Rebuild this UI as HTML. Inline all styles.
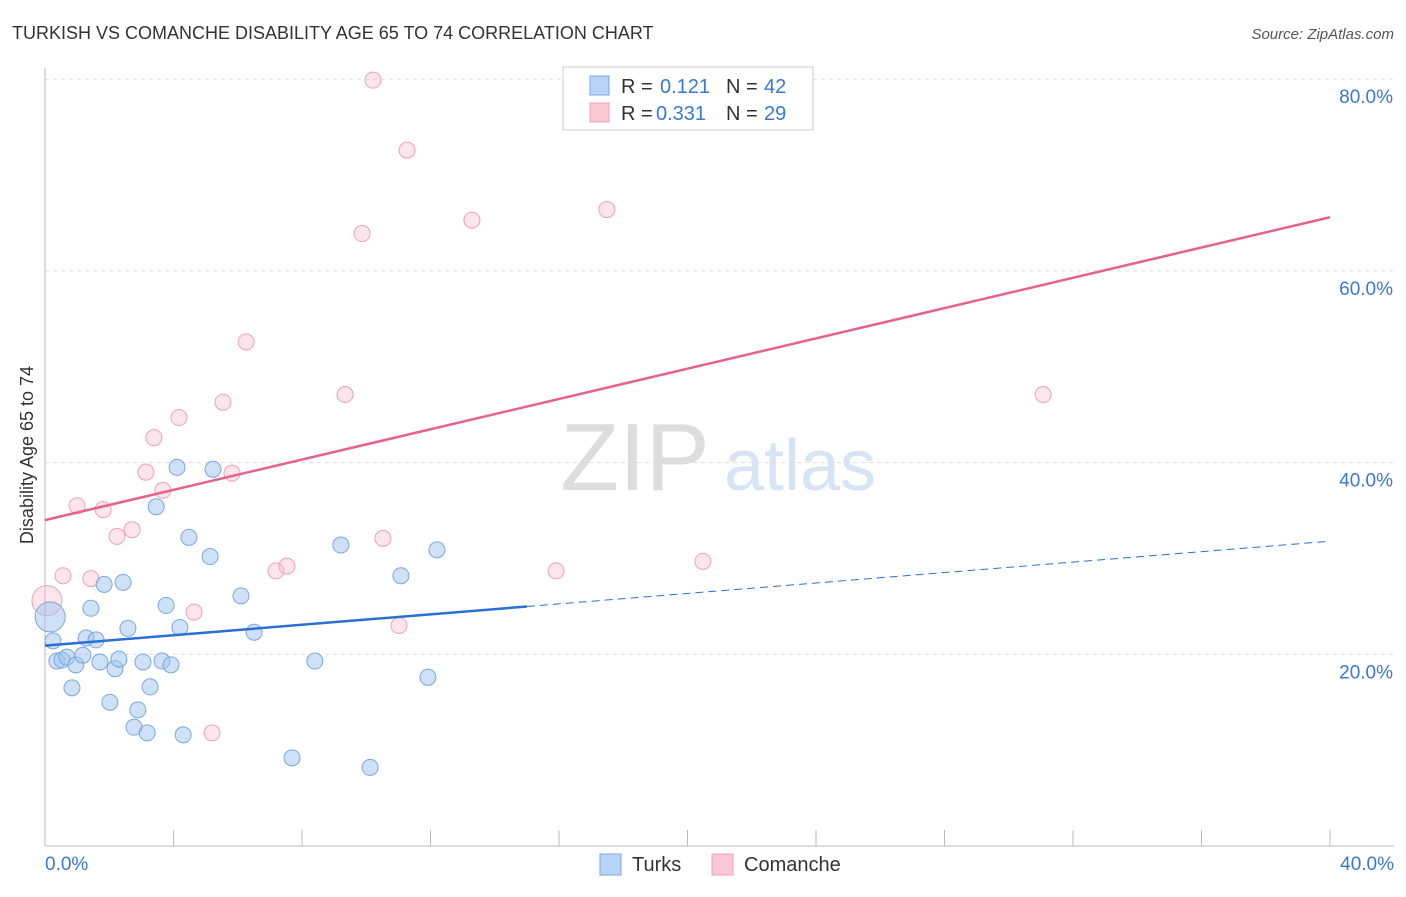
<!DOCTYPE html>
<html><head><meta charset="utf-8"><style>
body{margin:0;background:#fff;font-family:"Liberation Sans",sans-serif;}
svg text{font-family:"Liberation Sans",sans-serif;}
</style></head><body>
<svg id="chart" width="1406" height="892" xmlns="http://www.w3.org/2000/svg">
<text x="12" y="39" font-size="18" fill="#333">TURKISH VS COMANCHE DISABILITY AGE 65 TO 74 CORRELATION CHART</text>
<text x="1394" y="39" font-size="15" fill="#555" text-anchor="end" font-style="italic">Source: ZipAtlas.com</text>
<text transform="translate(33,455) rotate(-90)" font-size="18" fill="#333" text-anchor="middle">Disability Age 65 to 74</text>
<g><text x="635" y="490" font-size="96" fill="#ddd" font-family="Liberation Serif" text-anchor="middle">ZIP</text><text x="800" y="490" font-size="72" fill="#d6e4f6" text-anchor="middle">atlas</text></g>
<g id="grid"></g><g id="axes"></g><g id="marks"></g>
<g>
<rect x="563" y="67" width="250" height="63" fill="#fff" stroke="#ccc"/>
<rect x="590" y="76" width="19" height="19" fill="#b9d3f5" stroke="#7aa7e0"/>
<text x="621" y="93" font-size="20" fill="#333">R = </text><text x="660" y="93" font-size="20" fill="#3a78d4">0.121</text>
<text x="726" y="93" font-size="20" fill="#333">N = </text><text x="764" y="93" font-size="20" fill="#3a78d4">42</text>
<rect x="590" y="103" width="19" height="19" fill="#f9c8d6" stroke="#f0a0b8"/>
<text x="621" y="120" font-size="20" fill="#333">R = </text><text x="656" y="120" font-size="20" fill="#3a78d4">0.331</text>
<text x="726" y="120" font-size="20" fill="#333">N = </text><text x="764" y="120" font-size="20" fill="#3a78d4">29</text>
</g>
<g>
<rect x="600" y="854" width="21" height="21" fill="#b9d3f5" stroke="#7aa7e0"/><text x="632" y="871" font-size="20" fill="#333">Turks</text>
<rect x="712" y="854" width="21" height="21" fill="#f9c8d6" stroke="#f0a0b8"/><text x="744" y="871" font-size="20" fill="#333">Comanche</text>
</g>
</svg>
<script>
const turksX=[0.16,0.25,0.37,0.53,0.68,0.84,0.96,1.18,1.28,1.43,1.59,1.71,1.84,2.02,2.18,2.30,2.43,2.58,2.77,2.89,3.05,3.18,3.27,3.46,3.64,3.77,3.92,4.11,4.20,4.30,4.48,5.14,5.23,6.10,6.51,7.69,8.40,9.21,10.12,11.08,11.92,12.20];
const turksY=[23.9,21.4,19.3,19.4,19.7,16.5,18.9,19.9,21.7,24.8,21.5,19.2,27.3,15.0,18.5,19.5,27.5,22.7,12.4,14.2,19.2,11.8,16.6,35.4,19.3,25.1,18.9,39.5,22.8,11.6,32.2,30.2,39.3,26.1,22.3,9.2,19.3,31.4,8.2,28.2,17.6,30.9];
const comX=[0.06,0.56,1.00,1.43,1.81,2.24,2.71,3.14,3.39,3.67,4.17,4.64,5.20,5.54,5.82,6.26,7.19,7.53,9.34,9.87,10.21,10.52,11.02,11.27,13.29,15.91,17.49,20.48,31.07];
const comY=[25.6,28.2,35.5,27.9,35.1,32.3,33.0,39.0,42.6,37.1,44.7,24.4,11.8,46.3,38.9,52.6,28.7,29.2,47.1,63.9,79.9,32.1,23.0,72.6,65.3,28.7,66.4,29.7,47.1];
const turksTrend=[20.9,31.8]; // y at x=0 and x=40
const comTrend=[34.0,65.6];
const yTicks=[20,40,60,80];
const xTickLabels=["0.0%","40.0%"];
const turksMaxX=15;
const NS="http://www.w3.org/2000/svg";
const sx=v=>45+v/40*1285, sy=v=>846-v/20*191.7;
function mk(t,a,p){const e=document.createElementNS(NS,t);for(const k in a)e.setAttribute(k,a[k]);p.appendChild(e);return e;}
const grid=document.getElementById('grid'),axes=document.getElementById('axes'),marks=document.getElementById('marks');
yTicks.forEach(t=>{
 const l=mk('line',{x1:45,x2:1394,y1:sy(t),y2:sy(t),stroke:'#ddd','stroke-dasharray':'4,4'},grid);
 
 
 const tx=mk('text',{x:1393,y:sy(t)+24,'font-size':19,fill:'#3a78d4','text-anchor':'end'},axes);
 tx.textContent=t.toFixed(1)+'%';
 
 
});
const ya=mk('line',{x1:45,x2:45,y1:68,y2:846,stroke:'#bbb'},axes);


const xa=mk('line',{x1:45,x2:1394,y1:846,y2:846,stroke:'#bbb'},axes);


for(let i=0;i<=10;i++){const l=mk('line',{x1:sx(i*4),x2:sx(i*4),y1:830,y2:846,stroke:'#bbb'},axes);
 
 }
[[0,'start',45],[40,'end',1394]].forEach((d,i)=>{const t=mk('text',{x:d[2],y:870,'font-size':19,fill:'#3a78d4','text-anchor':d[1]},axes);t.textContent=xTickLabels[i];
 
 });
function pts(X,Y,fill,stroke,name){X.forEach((x,i)=>{const c=mk('circle',{cx:sx(x),cy:sy(Y[i]),r:i===0?15:8,fill:fill,stroke:stroke,'stroke-width':1},marks);
 
 });}
pts(comX,comY,'rgba(248,180,200,0.35)','#f0a0b8','comanche-point');
pts(turksX,turksY,'rgba(160,196,240,0.5)','#7aa7e0','turks-point');
const ty=x=>turksTrend[0]+(turksTrend[1]-turksTrend[0])*x/40;
const t1=mk('line',{x1:sx(0),y1:sy(ty(0)),x2:sx(turksMaxX),y2:sy(ty(turksMaxX)),stroke:'#2a6fd6','stroke-width':2.5},marks);


const t2=mk('line',{x1:sx(turksMaxX),y1:sy(ty(turksMaxX)),x2:sx(40),y2:sy(ty(40)),stroke:'#2a6fd6','stroke-width':1,'stroke-dasharray':'8,5'},marks);


const p1=mk('line',{x1:sx(0),y1:sy(comTrend[0]),x2:sx(40),y2:sy(comTrend[1]),stroke:'#e8618c','stroke-width':2.5},marks);


</script>
</body></html>
